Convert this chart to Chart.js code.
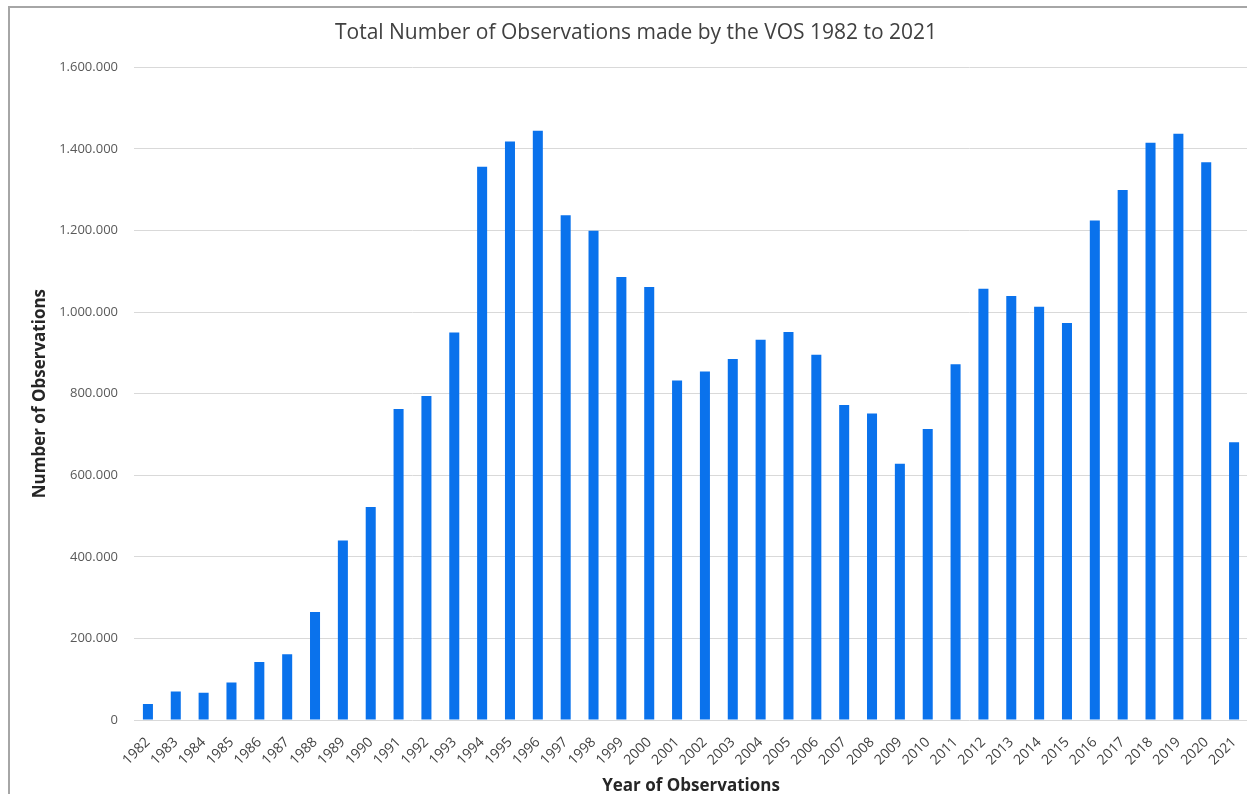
<!DOCTYPE html>
<html>
<head>
<meta charset="utf-8">
<script src="https://cdn.jsdelivr.net/npm/chart.js@4.4.1/dist/chart.umd.min.js"></script>
<style>
  html, body { margin: 0; padding: 0; background: #ffffff; overflow: hidden; }
  #wrap { position: absolute; left: 0; top: 0; width: 1248px; height: 794px; }
  #frame { position: absolute; left: 8px; top: 6px; width: 1300px; height: 900px;
           border-left: 2px solid #a6a6a6; border-top: 2px solid #a6a6a6; box-sizing: border-box; pointer-events: none; }
</style>
</head>
<body>
<div id="wrap"><canvas id="chart"></canvas></div>
<div id="frame"></div>
<script>
// Observation years and the yearly totals
const years = [
  '1982','1983','1984','1985','1986','1987','1988','1989','1990','1991',
  '1992','1993','1994','1995','1996','1997','1998','1999','2000','2001',
  '2002','2003','2004','2005','2006','2007','2008','2009','2010','2011',
  '2012','2013','2014','2015','2016','2017','2018','2019','2020','2021'
];
const observations = [
  39000, 70000, 67000, 92000, 142000, 161000, 265000, 440000, 522000, 762000,
  794000, 950000, 1356000, 1418000, 1444000, 1237000, 1199000, 1086000, 1061000, 832000,
  854000, 885000, 932000, 951000, 895000, 772000, 751000, 628000, 713000, 872000,
  1057000, 1039000, 1013000, 973000, 1224000, 1299000, 1415000, 1437000, 1367000, 681000
];
const yMax = 1600000;
const yStep = 200000;

// thousands separated with dots, e.g. 1.600.000
function dotted(v) {
  return String(Math.round(v)).replace(/\B(?=(\d{3})+(?!\d))/g, '.');
}

const FONT = "'Open Sans', 'Noto Sans', sans-serif";

new Chart(document.getElementById('chart'), {
  type: 'bar',
  data: {
    labels: years,
    datasets: [{
      label: 'Observations',
      data: observations,
      backgroundColor: '#0a72ec',
      borderWidth: 0,
      barPercentage: 0.36,
      categoryPercentage: 1.0
    }]
  },
  options: {
    responsive: true,
    maintainAspectRatio: false,
    animation: false,
    layout: { padding: { left: 24, right: 0, top: 0, bottom: 0 } },
    plugins: {
      legend: { display: false },
      tooltip: { enabled: false },
      title: {
        display: true,
        text: 'Total Number of Observations made by the VOS 1982 to 2021',
        color: '#404040',
        font: { family: FONT, size: 21, weight: 'normal' },
        padding: { top: 20, bottom: 22 }
      }
    },
    scales: {
      x: {
        grid: { display: false },
        border: { display: false },
        ticks: {
          color: '#404040',
          font: { family: FONT, size: 14 },
          minRotation: 45,
          maxRotation: 45,
          autoSkip: false,
          padding: 6
        },
        title: {
          display: true,
          text: 'Year of Observations',
          color: '#262626',
          font: { family: FONT, size: 17, weight: 'bold' },
          padding: { top: 0, bottom: -2 }
        },
        afterFit: (s) => { s.height = 74; s.paddingLeft = 0; s.paddingRight = 0; }
      },
      y: {
        min: 0,
        max: yMax,
        grid: { color: '#d9d9d9', lineWidth: 1, drawTicks: false },
        border: { display: false },
        ticks: {
          stepSize: yStep,
          color: '#595959',
          font: { family: FONT, size: 13 },
          padding: 16,
          callback: (v) => dotted(v)
        },
        title: {
          display: true,
          text: 'Number of Observations',
          color: '#262626',
          font: { family: FONT, size: 17, weight: 'bold' },
          padding: { top: 6, bottom: 0 }
        },
        afterFit: (s) => { s.width = 110; }
      }
    }
  }
});
</script>
</body>
</html>
